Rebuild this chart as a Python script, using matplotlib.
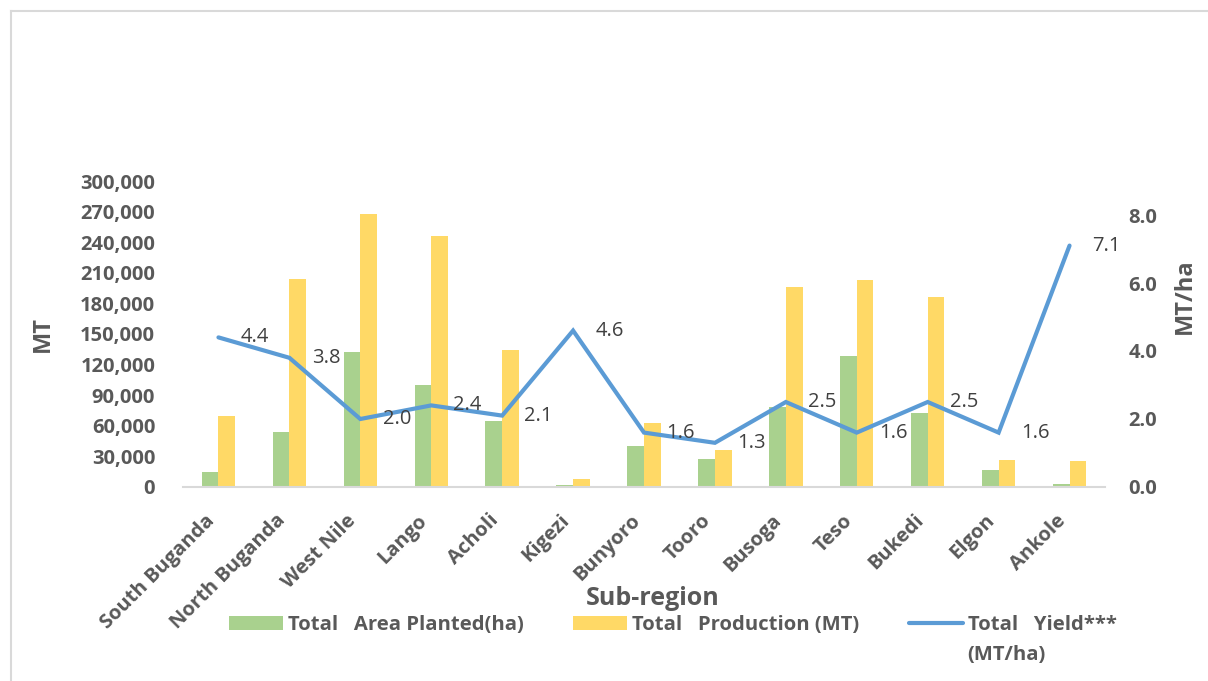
import matplotlib.pyplot as plt
import numpy as np
from matplotlib.lines import Line2D
from matplotlib.ticker import FuncFormatter, MultipleLocator

regions = ["South Buganda", "North Buganda", "West Nile", "Lango", "Acholi", "Kigezi",
           "Bunyoro", "Tooro", "Busoga", "Teso", "Bukedi", "Elgon", "Ankole"]
area_planted = [15000, 53700, 132000, 100000, 64500, 1500, 39800,
                27400, 78000, 128700, 72600, 16300, 3200]
production = [69400, 204000, 268000, 246000, 134000, 8000, 63000,
              36500, 196000, 203000, 186000, 26400, 25400]
yield_ha = [4.4, 3.8, 2.0, 2.4, 2.1, 4.6, 1.6, 1.3, 2.5, 1.6, 2.5, 1.6, 7.1]

GREEN = "#A9D18E"
YELLOW = "#FFD966"
BLUE = "#5B9BD5"
TXT = "#595959"
LBL = "#404040"

plt.rcParams["font.family"] = ["Open Sans", "DejaVu Sans"]

fig = plt.figure(figsize=(12.08, 6.81), dpi=100)
ax = fig.add_axes([183 / 1208, 1 - 487 / 681, 922 / 1208, 306 / 681])
ax2 = ax.twinx()

x = np.arange(len(regions))
w = 0.235
ax.bar(x - w / 2, area_planted, w, color=GREEN, label="Total   Area Planted(ha)", zorder=2)
ax.bar(x + w / 2, production, w, color=YELLOW, label="Total   Production (MT)", zorder=2)

line, = ax2.plot(x, yield_ha, color=BLUE, lw=3.0, solid_joinstyle="miter",
                 solid_capstyle="round", label="Total   Yield***")
for xi, yi in zip(x, yield_ha):
    ax2.annotate(f"{yi:.1f}", (xi, yi), xytext=(16, 0), textcoords="offset points",
                 ha="left", va="center", fontsize=14.5, color=LBL)

ax.set_xlim(-0.5, len(regions) - 0.5)
ax.set_ylim(0, 300000)
ax2.set_ylim(0, 9)
ax.yaxis.set_major_locator(MultipleLocator(30000))
ax.yaxis.set_major_formatter(FuncFormatter(lambda v, p: f"{v:,.0f}"))
ax2.set_yticks([0, 2, 4, 6, 8])
ax2.yaxis.set_major_formatter(FuncFormatter(lambda v, p: f"{v:.1f}"))

ax.set_xticks(x)
ax.set_xticklabels(regions, rotation=45, ha="right", va="top",
                   fontsize=14.5, fontweight="bold", color=TXT)
ax.tick_params(axis="x", length=0, pad=17)
ax.tick_params(axis="y", length=0, pad=20, labelsize=14.5, labelcolor=TXT)
ax2.tick_params(axis="y", length=0, pad=17, labelsize=14.5, labelcolor=TXT)
for t in ax.get_yticklabels() + ax2.get_yticklabels():
    t.set_fontweight("bold")

for a in (ax, ax2):
    for s in ("top", "right", "left"):
        a.spines[s].set_visible(False)
ax2.spines["bottom"].set_visible(False)
ax.spines["bottom"].set_color("#D9D9D9")
ax.spines["bottom"].set_linewidth(1.5)

ax.set_ylabel("MT", fontsize=17, fontweight="bold", color=TXT)
ax.yaxis.set_label_coords(-0.139, 0.5)
ax2.set_ylabel("MT/ha", fontsize=17, fontweight="bold", color=TXT)
ax2.yaxis.set_label_coords(1.074, 0.624)
ax.set_xlabel("Sub-region", fontsize=18, fontweight="bold", color=TXT)
ax.xaxis.set_label_coords(0.509, -0.324)

handles = [ax.patches[0], ax.patches[len(regions)], line]
labels = ["Total   Area Planted(ha)", "Total   Production (MT)", "Total   Yield***"]
leg = fig.legend(handles, labels, loc="center left", bbox_to_anchor=(229 / 1208, 56 / 681),
                 ncol=3, frameon=False, borderpad=0, borderaxespad=0,
                 handlelength=2.65, handletextpad=0.25, columnspacing=2.45,
                 prop={"size": 14.6, "weight": "bold"})
for t in leg.get_texts():
    t.set_color(TXT)

fig.canvas.draw()
bb = leg.get_texts()[2].get_window_extent()
inv = fig.transFigure.inverted()
px, py = inv.transform((bb.x0, bb.y0 - 30))
fig.text(px, py, "(MT/ha)", fontsize=14.6, fontweight="bold", color=TXT, ha="left", va="bottom")

# chart border (only top and left edges visible)
fig.add_artist(Line2D([11 / 1208, 11 / 1208], [0, 1 - 11 / 681], transform=fig.transFigure,
                      color="#D9D9D9", lw=1.5))
fig.add_artist(Line2D([11 / 1208, 1], [1 - 11 / 681, 1 - 11 / 681], transform=fig.transFigure,
                      color="#D9D9D9", lw=1.5))

fig.savefig("out.png", dpi=100, facecolor="white")
